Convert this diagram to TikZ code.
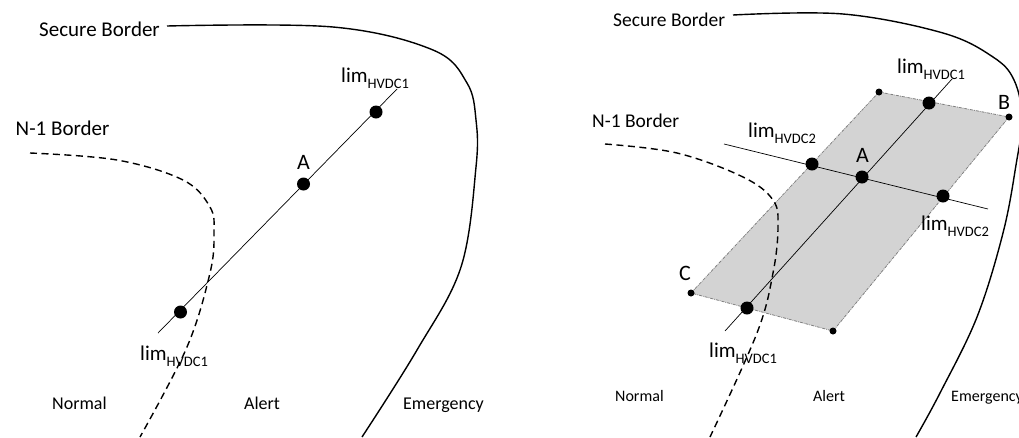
\documentclass[tikz,border=0pt]{standalone}
\usepackage{fontspec}
\setmainfont{Carlito}
\begin{document}
\begin{tikzpicture}[x=1pt,y=-1pt,
  bigdot/.style={circle,fill=black,inner sep=0pt,minimum size=13pt},
  smalldot/.style={circle,fill=black,inner sep=0pt,minimum size=7pt},
  border/.style={line width=1.4pt},
  nborder/.style={line width=1.4pt,dash pattern=on 7pt off 4.5pt},
  limline/.style={line width=0.7pt},
  regionL/.style={font=\fontsize{21}{24}\selectfont,anchor=base west,inner sep=0pt},
  regionR/.style={font=\fontsize{19.5}{22}\selectfont,anchor=base west,inner sep=0pt},
  stateL/.style={font=\fontsize{18}{20}\selectfont,anchor=base west,inner sep=0pt},
  stateR/.style={font=\fontsize{16}{18}\selectfont,anchor=base west,inner sep=0pt},
  ptlabel/.style={font=\fontsize{22}{24}\selectfont,anchor=base west,inner sep=0pt},
  limlabel/.style={font=\fontsize{21}{24}\selectfont,anchor=base west,inner sep=0pt},
  box/.style={fill={rgb,255:red,211;green,211;blue,211},draw=gray,line width=0.8pt,densely dashdotted}
]
\useasboundingbox (0,0) rectangle (1019,437);
\newcommand{\limsub}[1]{lim\raisebox{-6pt}{\fontsize{14.5}{16}\selectfont #1}}

% ================= LEFT PANEL =================
\node[regionL] (secL) at (39,36) {Secure Border};
\node[regionL] (nL) at (15.5,135) {N-1 Border};
\draw[border] plot[smooth,tension=0.6] coordinates {(167,26) (333,27) (433,50) (467,83) (476,120) (476,167) (461,267) (417,350) (362,437)};
\draw[nborder] plot[smooth,tension=0.6] coordinates {(30,153) (117,160) (183,180) (210,207) (214,233) (210,273) (187,347) (140,437)};

\coordinate (l1a) at (158,333);
\coordinate (l1b) at (397,89);
\draw[limline] (l1a) -- (l1b);
\node[bigdot] (dL1) at (180.5,312) {};
\node[bigdot] (dLA) at (303.5,184) {};
\node[bigdot] (dL2) at (376,112) {};
\node[ptlabel] (labAL) at (297,169) {A};
\node[limlabel] (limL1) at (341,82) {\limsub{HVDC1}};
\node[limlabel] (limL2) at (140,360) {\limsub{HVDC1}};

\node[stateL] (normL) at (52,409) {Normal};
\node[stateL] (alertL) at (244,409) {Alert};
\node[stateL] (emerL) at (403,409) {Emergency};

% ================= RIGHT PANEL =================
\node[regionR] (secR) at (613,26) {Secure Border};
\node[regionR] (nR) at (592,127) {N-1 Border};
\draw[border] plot[smooth,tension=0.6] coordinates {(733,15) (843,14) (943,33) (993,57) (1014,80) (1022,118) (1016,165) (1003,233) (977,317) (940,393) (916,437)};

\coordinate (pTL) at (879,92);
\coordinate (pB) at (1009,117);
\coordinate (pBR) at (833,331);
\coordinate (pC) at (691,293);
\draw[box] (pTL) -- (pB) -- (pBR) -- (pC) -- cycle;

\draw[nborder] plot[smooth,tension=0.6] coordinates {(605,144) (677,153) (743,177) (773,200) (778,227) (773,273) (757,333) (710,437)};

\coordinate (r1a) at (725,331);
\coordinate (r1b) at (952,79);
\coordinate (r2a) at (724,144);
\coordinate (r2b) at (988,209);
\draw[limline] (r1a) -- (r1b);
\draw[limline] (r2a) -- (r2b);

\node[smalldot] (cTL) at (pTL) {};
\node[smalldot] (cB) at (pB) {};
\node[smalldot] (cBR) at (pBR) {};
\node[smalldot] (cC) at (pC) {};
\node[bigdot] (dR1low) at (747,308) {};
\node[bigdot] (dRA) at (862,177) {};
\node[bigdot] (dR1up) at (929,103) {};
\node[bigdot] (dR2l) at (812,164) {};
\node[bigdot] (dR2r) at (943,196) {};

\node[ptlabel] (labAR) at (856,162) {A};
\node[ptlabel] (labB) at (998,109) {B};
\node[ptlabel] (labC) at (679,280) {C};
\node[limlabel] (limR1u) at (897,73) {\limsub{HVDC1}};
\node[limlabel] (limR2u) at (748,137) {\limsub{HVDC2}};
\node[limlabel] (limR2l) at (921,230) {\limsub{HVDC2}};
\node[limlabel] (limR1l) at (709,357) {\limsub{HVDC1}};

\node[stateR] (normR) at (615,401) {Normal};
\node[stateR] (alertR) at (813,401) {Alert};
\node[stateR] (emerR) at (951,401) {Emergency};
\end{tikzpicture}
\end{document}
